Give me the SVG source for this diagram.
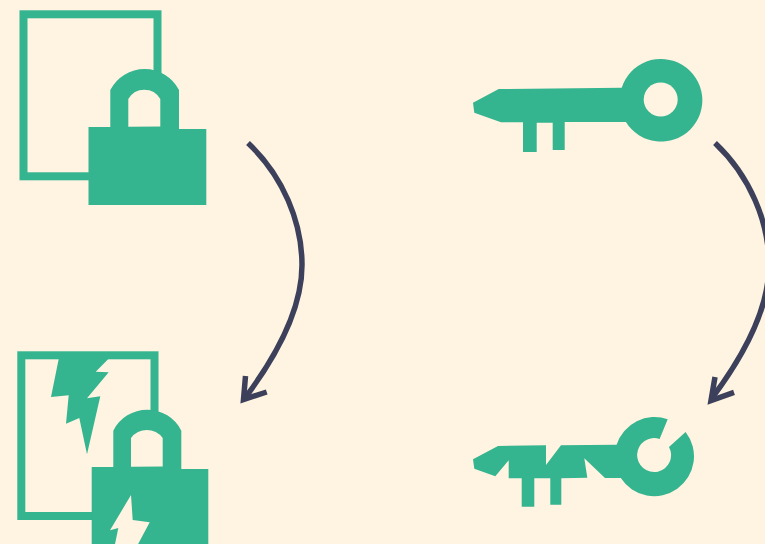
<svg xmlns="http://www.w3.org/2000/svg" width="765" height="544" viewBox="0 0 765 544">
  <style>
    .bg { fill: #fff3e2; }
    .g { fill: #34b48f; }
    .frame { fill: none; stroke: #34b48f; stroke-width: 8; }
    .arc { fill: none; stroke: #3d405b; stroke-width: 5.5; stroke-linejoin: miter; stroke-miterlimit: 6; }
  </style>
  <rect class="bg" width="765" height="544"/>
  <g id="locked-document">
    <rect class="frame" x="23.5" y="14.3" width="134" height="162"/>
    <path class="g" d="M88.5,127 H110.3 V90 A38.6,38.6 0 0 1 179,90 V129 H206.3 V205 H88.5 Z"/>
    <path class="bg" d="M128.3,126.8 V99 A18.4,18.4 0 0 1 160.3,99 V126.6 Z"/>
  </g>
  <g id="key">
    <path class="g" d="M473,102.7 L474.3,112.7 L501,122.3 H523 V152 H536.7 V122.7 H552.7 V150 H564.7 V122 H625.9 A41.3,41.3 0 1 0 621.7,87.7 L498.7,89 Z"/>
    <circle class="bg" cx="660.7" cy="99.5" r="17"/>
  </g>
  <g id="broken-document">
    <rect class="frame" x="21.3" y="355.3" width="133.2" height="160.7"/>
    <polygon class="g" points="58.7,359 51,397 68.7,395.3 66,423.7 79.3,418 87,454.3 100.3,396.3 87,398.3 108.7,372.3 95.7,371.7 108.3,359"/>
    <path class="g" d="M91.7,467 H113.3 V430.7 A38,38 0 0 1 181.3,430.7 V469 H208.3 V546 H91.7 Z"/>
    <path class="bg" d="M131,466.8 V438 A19.7,19.7 0 0 1 162.7,438 V466.6 Z"/>
    <polygon class="bg" points="131,495 132.7,520 149.7,522.3 136,548 114.2,548 118.3,528 110,530.3"/>
  </g>
  <g id="broken-key">
    <path class="g" d="M473,459.3 L474.3,468.7 L495.3,476.3 L508.7,460.3 V478.3 H521.7 V506.7 H534.3 V478.3 H550.3 V504.7 H561.3 V478.3 L587.3,477.7 L584.3,458.3 L605,478 H620.8 A39.8,39.8 0 1 0 685.6,431.9 L669,446.9 A17,17 0 1 1 659.6,439 L667.7,419.3 A39.8,39.8 0 0 0 616.6,444.7 L561,445.3 L546,465 V445.3 L498,446 Z"/>
  </g>
  <g id="connectors">
    <path class="arc" d="M248,143 C283,176 302,222 302,265 C302,310 275,358 245,398"/>
    <path class="arc" d="M245.5,376 L243.5,399.5 L266.7,392"/>
    <path class="arc" d="M715,143 C750,176 769,222 769,265 C769,310 742,358 712,398"/>
    <path class="arc" d="M715,377 L711,400.5 L734,392.3"/>
  </g>
</svg>
